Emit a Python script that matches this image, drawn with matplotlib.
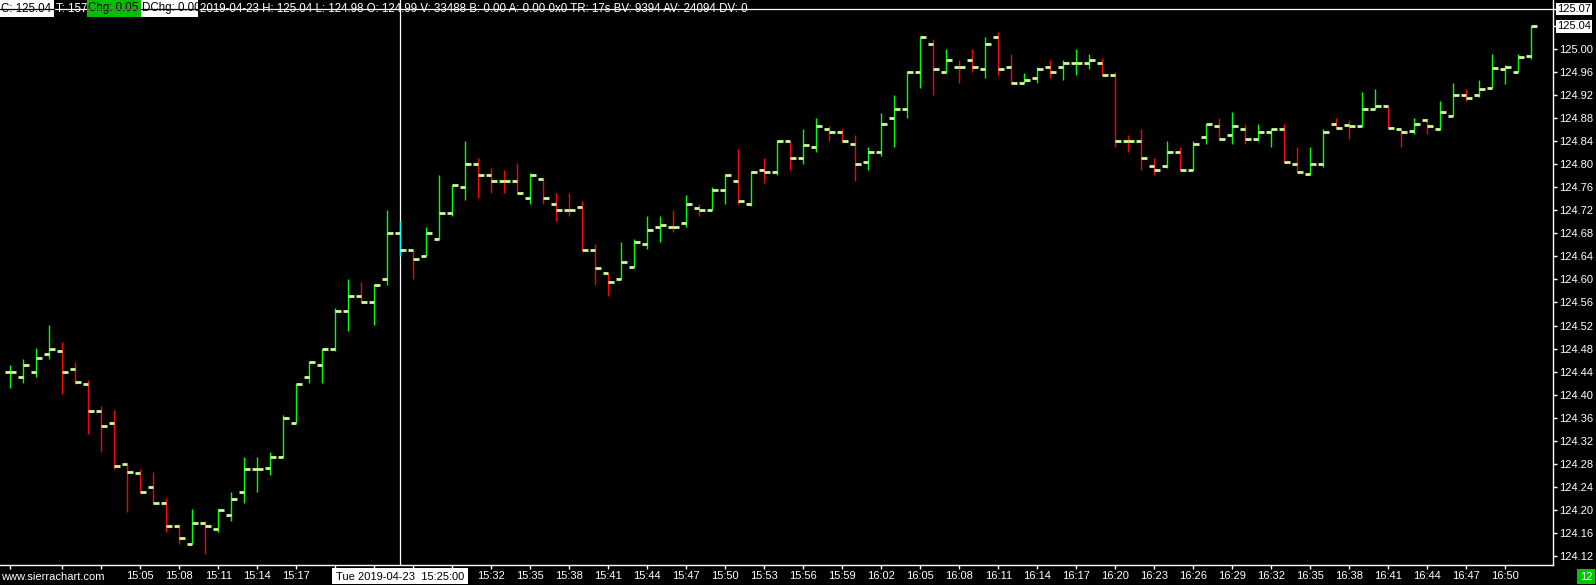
import numpy as np
import pandas as pd
import matplotlib
matplotlib.use('Agg')
import matplotlib.pyplot as plt
from matplotlib.patches import Rectangle
from matplotlib.lines import Line2D
import matplotlib.transforms as mtrans

# OHLC one-minute bars, 2019-04-23 from 14:55
opens = [124.440, 124.430, 124.440, 124.470, 124.475, 124.445, 124.419, 124.371, 124.350, 124.279,
         124.263, 124.240, 124.211, 124.171, 124.140, 124.176, 124.166, 124.190, 124.230, 124.270,
         124.273, 124.291, 124.350, 124.430, 124.451, 124.480, 124.545, 124.571, 124.560, 124.600,
         124.680, 124.651, 124.640, 124.670, 124.715, 124.760, 124.800, 124.781, 124.771, 124.771,
         124.741, 124.774, 124.731, 124.720, 124.726, 124.651, 124.611, 124.600, 124.621, 124.661,
         124.691, 124.691, 124.698, 124.724, 124.720, 124.755, 124.771, 124.731, 124.790, 124.786,
         124.840, 124.811, 124.830, 124.861, 124.856, 124.835, 124.805, 124.821, 124.880, 124.896,
         124.960, 125.010, 124.960, 124.970, 124.981, 124.965, 125.021, 124.970, 124.941, 124.950,
         124.970, 124.970, 124.976, 124.976, 124.976, 124.955, 124.840, 124.840, 124.798, 124.798,
         124.821, 124.790, 124.847, 124.866, 124.851, 124.861, 124.845, 124.856, 124.861, 124.800,
         124.783, 124.800, 124.870, 124.868, 124.866, 124.896, 124.901, 124.861, 124.858, 124.877,
         124.861, 124.884, 124.920, 124.920, 124.932, 124.965, 124.960, 124.988]
highs = [124.451, 124.462, 124.481, 124.521, 124.491, 124.456, 124.425, 124.380, 124.373, 124.279,
         124.270, 124.265, 124.220, 124.175, 124.201, 124.180, 124.201, 124.230, 124.291, 124.291,
         124.300, 124.365, 124.419, 124.458, 124.480, 124.551, 124.601, 124.596, 124.592, 124.721,
         124.701, 124.651, 124.691, 124.782, 124.765, 124.841, 124.811, 124.794, 124.790, 124.803,
         124.785, 124.777, 124.750, 124.750, 124.737, 124.662, 124.611, 124.665, 124.670, 124.710,
         124.710, 124.721, 124.747, 124.731, 124.760, 124.783, 124.827, 124.788, 124.811, 124.842,
         124.840, 124.862, 124.881, 124.866, 124.861, 124.851, 124.830, 124.890, 124.921, 124.962,
         125.021, 125.018, 125.001, 124.981, 125.001, 125.021, 125.030, 124.992, 124.959, 124.970,
         124.981, 124.981, 125.001, 124.992, 124.985, 124.960, 124.851, 124.862, 124.811, 124.841,
         124.830, 124.841, 124.870, 124.881, 124.891, 124.870, 124.870, 124.861, 124.870, 124.830,
         124.830, 124.862, 124.881, 124.877, 124.926, 124.931, 124.901, 124.861, 124.881, 124.881,
         124.910, 124.941, 124.931, 124.947, 124.992, 124.972, 124.992, 125.040]
lows = [124.412, 124.420, 124.431, 124.462, 124.401, 124.419, 124.332, 124.301, 124.271, 124.196,
        124.230, 124.211, 124.162, 124.141, 124.140, 124.123, 124.162, 124.181, 124.212, 124.231,
        124.261, 124.291, 124.350, 124.420, 124.420, 124.476, 124.511, 124.560, 124.521, 124.591,
        124.641, 124.601, 124.640, 124.670, 124.710, 124.738, 124.742, 124.750, 124.750, 124.750,
        124.732, 124.732, 124.702, 124.711, 124.651, 124.591, 124.572, 124.600, 124.621, 124.653,
        124.666, 124.682, 124.692, 124.711, 124.720, 124.732, 124.732, 124.728, 124.767, 124.782,
        124.790, 124.801, 124.822, 124.841, 124.840, 124.772, 124.791, 124.815, 124.831, 124.881,
        124.932, 124.921, 124.958, 124.942, 124.961, 124.951, 124.956, 124.941, 124.941, 124.942,
        124.951, 124.947, 124.956, 124.965, 124.955, 124.831, 124.822, 124.790, 124.782, 124.794,
        124.790, 124.790, 124.836, 124.842, 124.836, 124.836, 124.841, 124.830, 124.802, 124.786,
        124.781, 124.796, 124.864, 124.844, 124.866, 124.896, 124.863, 124.831, 124.852, 124.852,
        124.860, 124.884, 124.911, 124.917, 124.932, 124.939, 124.960, 124.984]
closes = [124.440, 124.451, 124.464, 124.480, 124.440, 124.421, 124.371, 124.345, 124.275, 124.265,
          124.230, 124.211, 124.171, 124.150, 124.176, 124.171, 124.200, 124.219, 124.270, 124.270,
          124.291, 124.360, 124.419, 124.456, 124.480, 124.545, 124.571, 124.560, 124.590, 124.680,
          124.651, 124.635, 124.680, 124.715, 124.765, 124.800, 124.781, 124.771, 124.771, 124.750,
          124.781, 124.741, 124.720, 124.720, 124.651, 124.620, 124.595, 124.630, 124.665, 124.686,
          124.694, 124.691, 124.731, 124.720, 124.755, 124.781, 124.736, 124.786, 124.786, 124.840,
          124.811, 124.833, 124.866, 124.856, 124.840, 124.800, 124.821, 124.870, 124.896, 124.960,
          125.021, 124.965, 124.981, 124.970, 124.970, 125.010, 124.965, 124.941, 124.946, 124.965,
          124.960, 124.976, 124.976, 124.981, 124.955, 124.840, 124.840, 124.811, 124.790, 124.821,
          124.790, 124.835, 124.870, 124.845, 124.866, 124.845, 124.856, 124.861, 124.805, 124.786,
          124.800, 124.856, 124.864, 124.866, 124.896, 124.901, 124.863, 124.856, 124.870, 124.866,
          124.891, 124.920, 124.915, 124.931, 124.967, 124.970, 124.986, 125.040]

bar_times = pd.date_range('2019-04-23 14:55', periods=len(closes), freq='min')
price_ticks = [124.12, 124.16, 124.20, 124.24, 124.28, 124.32, 124.36, 124.40, 124.44, 124.48,
               124.52, 124.56, 124.60, 124.64, 124.68, 124.72, 124.76, 124.80, 124.84, 124.88,
               124.92, 124.96, 125.00]
# time labels hidden behind the site name and the cursor date box
hidden_times = ['14:55', '14:59', '15:02', '15:20', '15:23', '15:26', '15:29']
last_price = 125.04
cursor_price = 125.07
cursor_bar = 30
header = [("C: 125.04", 0, 54, 'white', 'black'),
          ("T: 157", 55, 86, None, 'white'),
          ("Chg: 0.05", 87, 141, '#00c000', 'black'),
          ("DChg: 0.00", 141, 198, 'white', 'black'),
          ("2019-04-23 H: 125.04 L: 124.98 O: 124.99 V: 33488 B: 0.00 A: 0.00 0x0 "
           "TR: 17s BV: 9394 AV: 24094 DV: 0", 199, 720, None, 'white')]
timer_text = "12"

plt.rcParams['font.family'] = ['Liberation Sans', 'DejaVu Sans']

W, H = 1596, 585
up_c, dn_c, tick_c = '#00ff00', '#ff0000', '#ccff99'

fig = plt.figure(figsize=(W / 100, H / 100), dpi=100, facecolor='black')
ax = fig.add_axes([0, 20 / H, 1553 / W, 565 / H])
ax.set_facecolor('black')
ax.set_xlim(-0.792, 118.67)
ax.set_ylim(124.1038, 125.0857)

# bar colours: close vs open, ties by previous close, then previous colour
n = len(closes)
cols = []
prev = up_c
for i in range(n):
    if closes[i] > opens[i]:
        c = up_c
    elif closes[i] < opens[i]:
        c = dn_c
    elif i > 0 and closes[i] > closes[i - 1]:
        c = up_c
    elif i > 0 and closes[i] < closes[i - 1]:
        c = dn_c
    else:
        c = prev
    cols.append(c)
    prev = c

x = np.arange(n)
# crosshair
ax.axvline(cursor_bar, color='white', lw=0.9, zorder=1)
ax.axhline(cursor_price, color='white', lw=0.9, zorder=1)

line_cols = ['#00ffff' if i == cursor_bar else cols[i] for i in range(n)]
ax.vlines(x, lows, highs, colors=line_cols, lw=1.0, zorder=2)
w = 0.41
ax.hlines(opens, x - w, x, colors=tick_c, lw=2.0, zorder=3)
ax.hlines(closes, x, x + w, colors=tick_c, lw=2.0, zorder=3)

for s in ['left', 'top']:
    ax.spines[s].set_visible(False)
for s in ['right', 'bottom']:
    ax.spines[s].set_color('white')
    ax.spines[s].set_linewidth(1.0)

ax.yaxis.tick_right()
yt = price_ticks + [last_price, cursor_price]
ax.set_yticks(yt)
ax.set_yticklabels(['%.2f' % p for p in price_ticks] + ['', ''])
ax.tick_params(axis='y', colors='white', length=3, width=1, pad=1.5, labelsize=8)

xt = [0] + list(range(4, n, 3))
xl = []
for i in xt:
    t = bar_times[i].strftime('%H:%M')
    xl.append('' if t in hidden_times else t)
ax.set_xticks(xt)
ax.set_xticklabels(xl)
ax.tick_params(axis='x', colors='white', length=3, width=1, pad=1.5, labelsize=8)

blend = mtrans.blended_transform_factory(ax.transAxes, ax.transData)
for p in [last_price, cursor_price]:
    ax.text(1.0 + 4 / 1553, p, '%.2f' % p, transform=blend, ha='left', va='center',
            fontsize=8, color='black', clip_on=False,
            bbox=dict(facecolor='white', edgecolor='none', pad=1.0))


def fx(px):
    return px / W


def fy(py):
    return 1 - py / H


def box(x0, y0, x1, y1, color):
    fig.add_artist(Rectangle((fx(x0), fy(y1)), (x1 - x0) / W, (y1 - y0) / H,
                             transform=fig.transFigure, facecolor=color,
                             edgecolor='none', zorder=4))


# header
for txt, x0, x1, bg, fg in header:
    if bg is not None:
        box(x0, 0, x1, 17, bg)
    fig.text(fx(x0 + 1), fy(8.5), txt, ha='left', va='center', fontsize=8.3,
             color=fg, zorder=5)
    if bg is not None:
        strike = 'black' if bg == 'white' else '#ff00ff'
        fig.add_artist(Line2D([fx(x0), fx(x1)], [fy(9), fy(9)], transform=fig.transFigure,
                              color=strike, lw=0.9, zorder=6))

# bottom overlays
fig.text(fx(1), fy(577), 'www.sierrachart.com', ha='left', va='center', fontsize=8,
         color='white', zorder=5)
box(332, 568, 468, 584, 'white')
fig.text(fx(400), fy(576.5), bar_times[cursor_bar].strftime('%a %Y-%m-%d  %H:%M:%S'),
         ha='center', va='center', fontsize=8, color='black', zorder=5)
box(1577, 569, 1595, 584, '#00c800')
fig.text(fx(1586), fy(576.5), timer_text, ha='center', va='center', fontsize=8,
         color='white', zorder=5)

fig.savefig('out.png', dpi=100, facecolor='black')
